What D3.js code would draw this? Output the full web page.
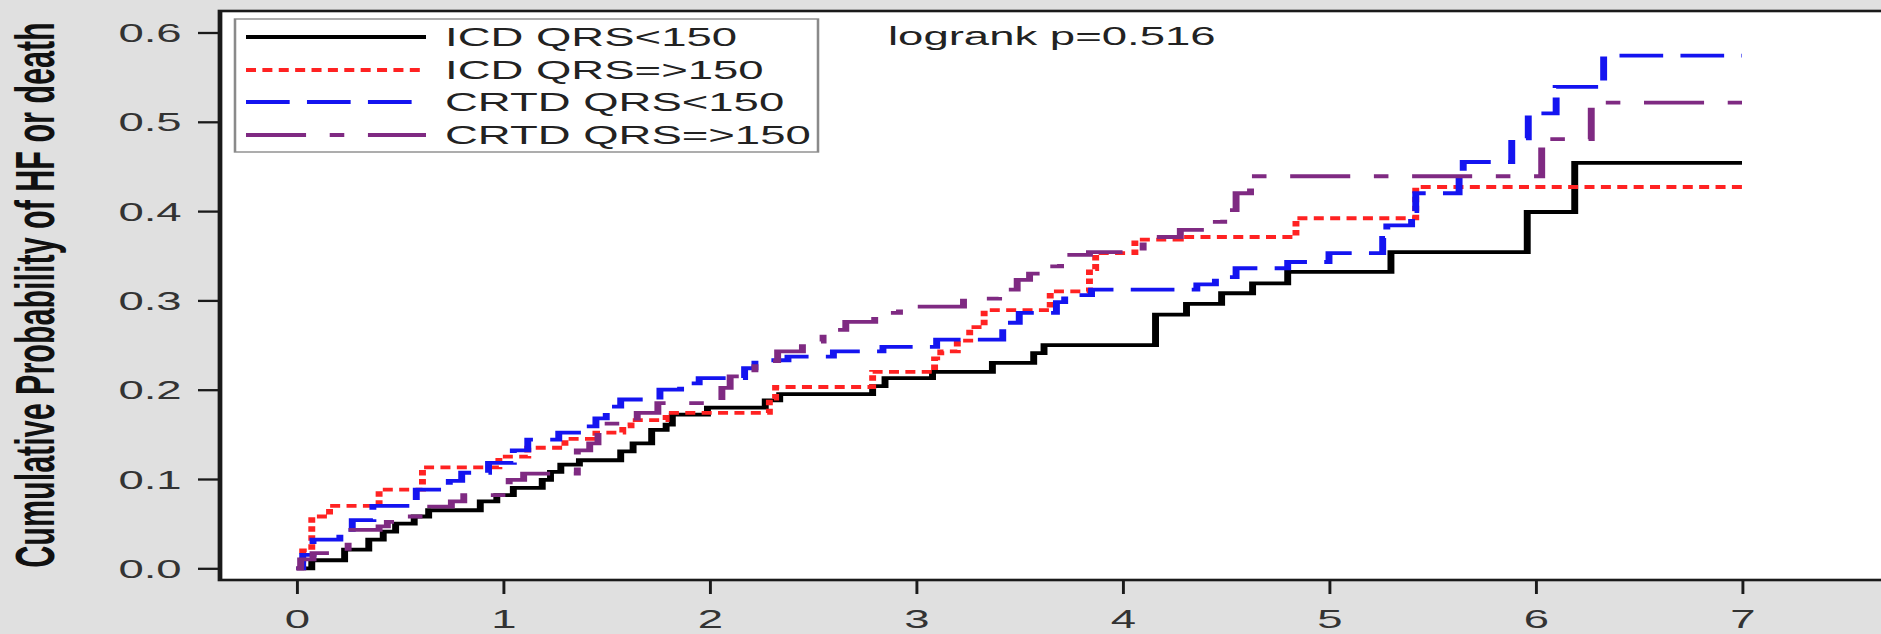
<!DOCTYPE html>
<html>
<head>
<meta charset="utf-8">
<script src="https://cdn.jsdelivr.net/npm/d3@7"></script>
<style>
  html, body { margin: 0; padding: 0; background: #e0e0e0; overflow: hidden; }
  svg { display: block; }
  text { font-family: "Liberation Sans", Arial, sans-serif; }
</style>
</head>
<body>
<div id="chart"></div>
<script>
// legend labels, one per curve
var groups = ["ICD QRS<150", "ICD QRS=>150", "CRTD QRS<150", "CRTD QRS=>150"];
var xTicks = [0, 1, 2, 3, 4, 5, 6, 7];
var yTicks = [0, 0.1, 0.2, 0.3, 0.4, 0.5, 0.6];
var yTitle = "Cumulative Probability of HF or death";
var pText = "logrank p=0.516";

// step times (years) and cumulative probability after each step
var icdNarrowT = [0, 0.074, 0.233, 0.35, 0.42, 0.48, 0.57, 0.64, 0.89, 0.97, 1.05, 1.19, 1.23, 1.28, 1.37, 1.57, 1.63, 1.72, 1.79, 1.82, 1.99, 2.27, 2.34, 2.79, 2.85, 3.08, 3.37, 3.57, 3.62, 4.16, 4.31, 4.48, 4.63, 4.80, 5.30, 5.96, 6.19, 7.0];
var icdNarrowP = [0, 0.009, 0.021, 0.032, 0.041, 0.050, 0.058, 0.065, 0.075, 0.082, 0.090, 0.099, 0.108, 0.116, 0.121, 0.131, 0.140, 0.155, 0.161, 0.172, 0.180, 0.188, 0.195, 0.204, 0.213, 0.220, 0.230, 0.241, 0.250, 0.284, 0.296, 0.308, 0.319, 0.332, 0.354, 0.399, 0.454, 0.454];

var icdWideT = [0, 0.03, 0.074, 0.16, 0.40, 0.61, 0.98, 1.12, 1.30, 1.45, 1.58, 1.62, 1.79, 2.29, 2.32, 2.79, 3.09, 3.12, 3.20, 3.26, 3.33, 3.65, 3.84, 3.87, 4.06, 4.28, 4.84, 5.42, 7.0];
var icdWideP = [0, 0.02, 0.058, 0.070, 0.088, 0.113, 0.125, 0.135, 0.145, 0.152, 0.159, 0.166, 0.174, 0.190, 0.203, 0.220, 0.235, 0.243, 0.255, 0.270, 0.289, 0.310, 0.335, 0.353, 0.368, 0.371, 0.392, 0.427, 0.427];

var crtdNarrowT = [0, 0.03, 0.08, 0.21, 0.27, 0.37, 0.58, 0.74, 0.80, 0.93, 1.05, 1.12, 1.27, 1.38, 1.45, 1.50, 1.57, 1.76, 1.86, 1.95, 2.17, 2.22, 2.38, 2.60, 2.84, 3.10, 3.42, 3.50, 3.68, 3.72, 3.85, 4.36, 4.45, 4.55, 4.80, 5.00, 5.26, 5.28, 5.40, 5.42, 5.63, 5.65, 5.885, 5.965, 6.10, 6.33, 7.0];
var crtdNarrowP = [0, 0.015, 0.032, 0.043, 0.054, 0.070, 0.088, 0.098, 0.107, 0.118, 0.132, 0.144, 0.152, 0.159, 0.168, 0.181, 0.189, 0.200, 0.207, 0.213, 0.224, 0.233, 0.237, 0.243, 0.248, 0.256, 0.275, 0.286, 0.298, 0.306, 0.312, 0.318, 0.326, 0.336, 0.343, 0.353, 0.370, 0.384, 0.400, 0.420, 0.440, 0.455, 0.4815, 0.5095, 0.539, 0.574, 0.574];

var crtdWideT = [0, 0.02, 0.08, 0.25, 0.40, 0.44, 0.50, 0.65, 0.75, 0.81, 1.03, 1.10, 1.36, 1.42, 1.46, 1.49, 1.65, 1.75, 2.06, 2.10, 2.22, 2.33, 2.45, 2.55, 2.66, 2.80, 2.92, 3.23, 3.40, 3.49, 3.55, 3.62, 3.70, 3.84, 4.10, 4.28, 4.40, 4.49, 4.55, 4.62, 6.03, 6.27, 7.0];
var crtdWideP = [0, 0.010, 0.017, 0.043, 0.047, 0.052, 0.058, 0.069, 0.075, 0.082, 0.099, 0.106, 0.132, 0.140, 0.155, 0.162, 0.174, 0.185, 0.202, 0.215, 0.232, 0.243, 0.254, 0.267, 0.276, 0.286, 0.293, 0.302, 0.312, 0.323, 0.330, 0.338, 0.351, 0.354, 0.371, 0.379, 0.388, 0.401, 0.420, 0.439, 0.4805, 0.5214, 0.5214];

var seriesT = [icdNarrowT, icdWideT, crtdNarrowT, crtdWideT];
var seriesP = [icdNarrowP, icdWideP, crtdNarrowP, crtdWideP];

// line styles
var colors = ["#000000", "#ff2222", "#1414f0", "#7f2a82"];
var dashes = [null, "5.5,3.5", "24,9.5", "33,13,8,13"];

// the original picture is stretched sideways, so draw narrow and stretch
var S = 1.82;
var svgWidth = 1881, svgHeight = 634;
var W = svgWidth / S;

var svg = d3.select("#chart").append("svg")
    .attr("width", svgWidth)
    .attr("height", svgHeight)
    .attr("viewBox", `0 0 ${W} ${svgHeight}`)
    .attr("preserveAspectRatio", "none");

svg.append("rect").attr("width", W).attr("height", svgHeight).attr("fill", "#e0e0e0");

var boxLeft = 220 / S, boxTop = 11, boxBottom = 580;

var x = d3.scaleLinear().domain([0, 7]).range([296.5 / S, 1742 / S]);
var y = d3.scaleLinear().domain([0, 0.6]).range([568.3, 32.5]);

// plot box
svg.append("rect")
    .attr("x", boxLeft)
    .attr("y", boxTop)
    .attr("width", W + 20 - boxLeft)
    .attr("height", boxBottom - boxTop)
    .attr("fill", "#ffffff")
    .attr("stroke", "#1a1a1a")
    .attr("stroke-width", 2.6);

// axes
var yAxis = d3.axisLeft(y).tickValues(yTicks).tickFormat(d3.format(".1f"))
    .tickSize(22 / S).tickSizeOuter(0).tickPadding(9);
var yg = svg.append("g")
    .attr("transform", `translate(${boxLeft},0)`)
    .call(yAxis);
yg.select(".domain").remove();
yg.selectAll("line").attr("stroke", "#1a1a1a").attr("stroke-width", 2.3);
yg.selectAll("text").attr("font-size", 25).attr("fill", "#333").attr("dy", "0.36em")
    .style("font-family", "'Liberation Sans', Arial, sans-serif");

var xAxis = d3.axisBottom(x).tickValues(xTicks).tickFormat(d3.format("d"))
    .tickSize(14).tickSizeOuter(0);
var xg = svg.append("g")
    .attr("transform", `translate(0,${boxBottom})`)
    .call(xAxis);
xg.select(".domain").remove();
xg.selectAll("line").attr("stroke", "#1a1a1a").attr("stroke-width", 1.6);
xg.selectAll("text").attr("font-size", 25).attr("fill", "#333").attr("y", 48).attr("dy", 0)
    .style("font-family", "'Liberation Sans', Arial, sans-serif");

// y title
svg.append("text")
    .attr("transform", `translate(29.5, 295) rotate(-90)`)
    .attr("text-anchor", "middle")
    .attr("font-size", 30.5)
    .attr("font-weight", "bold")
    .attr("fill", "#111")
    .text(yTitle);

// curves
var line = d3.line()
    .x(d => x(d[0]))
    .y(d => y(d[1]))
    .curve(d3.curveStepAfter);

seriesT.forEach(function(ts, i) {
    var pts = ts.map((t, j) => [t, seriesP[i][j]]);
    svg.append("path")
        .datum(pts)
        .attr("d", line)
        .attr("fill", "none")
        .attr("stroke", colors[i])
        .attr("stroke-width", 3.8)
        .attr("stroke-dasharray", dashes[i]);
});

// legend
var lg = svg.append("g");
lg.append("rect")
    .attr("x", 235 / S)
    .attr("y", 19)
    .attr("width", (818 - 235) / S)
    .attr("height", 133)
    .attr("fill", "#ffffff")
    .attr("stroke", "#8a8a8a")
    .attr("stroke-width", 1.4);

var rowY = [37, 70, 102, 135];
groups.forEach(function(name, i) {
    lg.append("line")
        .attr("x1", 246 / S).attr("x2", 426 / S)
        .attr("y1", rowY[i]).attr("y2", rowY[i])
        .attr("stroke", colors[i])
        .attr("stroke-width", 3.8)
        .attr("stroke-dasharray", dashes[i]);
    lg.append("text")
        .attr("x", 445 / S)
        .attr("y", rowY[i] + 9)
        .attr("font-size", 25)
        .attr("fill", "#222")
        .text(name);
});

svg.append("text")
    .attr("x", 888 / S)
    .attr("y", 45)
    .attr("font-size", 25)
    .attr("fill", "#222")
    .text(pText);
</script>
</body>
</html>
